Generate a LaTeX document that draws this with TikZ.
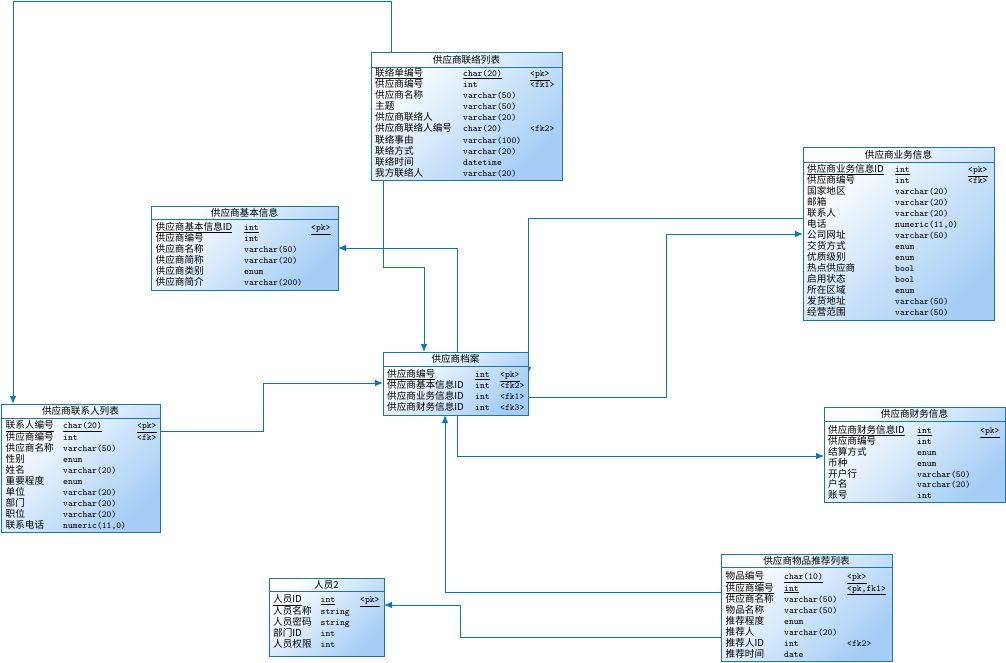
\documentclass[tikz,border=0pt]{standalone}
\usepackage{fontspec}
\newfontfamily\cjk{Noto Sans CJK SC}
\usetikzlibrary{fit,arrows.meta}
\definecolor{bordc}{RGB}{25,120,160}
\definecolor{linec}{RGB}{10,120,180}
\definecolor{tabblue}{RGB}{165,205,245}
\tikzset{
  tabframe/.style={draw=bordc, line width=0.8pt, inner sep=0pt, top color=white, bottom color=tabblue, shading angle=45},
  tabtitle/.style={inner sep=0pt, anchor=center, font=\cjk\fontsize{9.6}{11}\selectfont},
  nm/.style={inner sep=0pt, anchor=base west, font=\cjk\fontsize{9.6}{11}\selectfont},
  ty/.style={inner sep=0pt, anchor=base west, font=\ttfamily\fontsize{9.2}{10}\selectfont},
  conn/.style={draw=linec, line width=0.9pt, -{Latex[length=8pt,width=6.5pt]}},
}
% #1 name, #2 x1, #3 y1, #4 x2, #5 y2, #6 header line y, #7 title
\newcommand\ertab[7]{%
  \node[tabframe, fit={(#2,#3) (#4,#5)}] (#1) {};
  \draw[bordc, line width=0.6pt] (#1.west |- 0,#6) -- (#1.east |- 0,#6);
  \node[tabtitle] (#1-title) at ({(#2+#4)/2},{(#3+#6)/2}) {#7};
}
% #1 node prefix, #2 row centre y, #3 name, #4 type, #5 key
\newcommand\fld[5]{%
  \node[nm] (#1n) at (\nx,{#2+3.4}) {#3};
  \node[ty] (#1t) at (\tx,{#2+3.4}) {#4};
  \node[ty] (#1k) at (\kx,{#2+3.4}) {#5};
}
\begin{document}
\begin{tikzpicture}[x=1pt,y=-1pt]
\useasboundingbox (0,0) rectangle (1006,662);

% ---------- connectors ----------
\draw[conn] (391,0 |- 0,52) |- (13,1) -- (13,404);
\draw[conn] (383,180) -- (383,267) -| (424,352);
\draw[conn] (457,352) |- (338,248);
\draw[conn] (803,218) -| (528,375);
\draw[conn] (528,397) -| (666,234) -- (803,234);
\draw[conn] (457,415) |- (824,456);
\draw[conn] (160,431) -| (263,383) -- (383,383);
\draw[conn] (721,592) -| (445,415);
\draw[conn] (721,637) -| (460,605) -- (384,605);

% ---------- 供应商联络列表 ----------
\ertab{lianluo}{371}{52}{562}{180}{67}{供应商联络列表}
\def\nx{375}\def\tx{463}\def\kx{530}
\fld{ll1}{73}{\underline{联络单编号}}{\underline{char(20)}}{\underline{<pk>}}
\fld{ll2}{84.1}{供应商编号}{int}{<fk1>}
\fld{ll3}{95.2}{供应商名称}{varchar(50)}{}
\fld{ll4}{106.3}{主题}{varchar(50)}{}
\fld{ll5}{117.4}{供应商联络人}{varchar(20)}{}
\fld{ll6}{128.5}{供应商联络人编号}{char(20)}{<fk2>}
\fld{ll7}{139.6}{联络事由}{varchar(100)}{}
\fld{ll8}{150.7}{联络方式}{varchar(20)}{}
\fld{ll9}{161.8}{联络时间}{datetime}{}
\fld{ll10}{172.9}{我方联络人}{varchar(20)}{}

% ---------- 供应商基本信息 ----------
\ertab{jiben}{151}{206}{338}{290}{219.5}{供应商基本信息}
\def\nx{155.5}\def\tx{244}\def\kx{311}
\fld{jb1}{227}{\underline{供应商基本信息ID}}{\underline{int}}{\underline{<pk>}}
\fld{jb2}{238}{供应商编号}{int}{}
\fld{jb3}{249}{供应商名称}{varchar(50)}{}
\fld{jb4}{260}{供应商简称}{varchar(20)}{}
\fld{jb5}{271}{供应商类别}{enum}{}
\fld{jb6}{282}{供应商简介}{varchar(200)}{}

% ---------- 供应商业务信息 ----------
\ertab{yewu}{803}{147}{994}{320}{162}{供应商业务信息}
\def\nx{807}\def\tx{895}\def\kx{968}
\fld{yw1}{169}{\underline{供应商业务信息ID}}{\underline{int}}{\underline{<pk>}}
\fld{yw2}{180}{供应商编号}{int}{<fk>}
\fld{yw3}{191}{国家地区}{varchar(20)}{}
\fld{yw4}{202}{邮箱}{varchar(20)}{}
\fld{yw5}{213}{联系人}{varchar(20)}{}
\fld{yw6}{224}{电话}{numeric(11,0)}{}
\fld{yw7}{235}{公司网址}{varchar(50)}{}
\fld{yw8}{246}{交货方式}{enum}{}
\fld{yw9}{257}{优质级别}{enum}{}
\fld{yw10}{268}{热点供应商}{bool}{}
\fld{yw11}{279}{启用状态}{bool}{}
\fld{yw12}{290}{所在区域}{enum}{}
\fld{yw13}{301}{发货地址}{varchar(50)}{}
\fld{yw14}{312}{经营范围}{varchar(50)}{}

% ---------- 供应商档案 ----------
\ertab{dangan}{383}{352}{528}{415}{366}{供应商档案}
\def\nx{387}\def\tx{475}\def\kx{500}
\fld{da1}{374}{\underline{供应商编号}}{\underline{int}}{\underline{<pk>}}
\fld{da2}{385}{供应商基本信息ID}{int}{<fk2>}
\fld{da3}{396}{供应商业务信息ID}{int}{<fk1>}
\fld{da4}{407}{供应商财务信息ID}{int}{<fk3>}

% ---------- 供应商联系人列表 ----------
\ertab{lxr}{1}{404}{160}{532}{418}{供应商联系人列表}
\def\nx{5.5}\def\tx{63}\def\kx{137}
\fld{lx1}{425.5}{\underline{联系人编号}}{\underline{char(20)}}{\underline{<pk>}}
\fld{lx2}{436.6}{供应商编号}{int}{<fk>}
\fld{lx3}{447.7}{供应商名称}{varchar(50)}{}
\fld{lx4}{458.8}{性别}{enum}{}
\fld{lx5}{469.9}{姓名}{varchar(20)}{}
\fld{lx6}{481}{重要程度}{enum}{}
\fld{lx7}{492.1}{单位}{varchar(20)}{}
\fld{lx8}{503.2}{部门}{varchar(20)}{}
\fld{lx9}{514.3}{职位}{varchar(20)}{}
\fld{lx10}{525.4}{联系电话}{numeric(11,0)}{}

% ---------- 供应商财务信息 ----------
\ertab{caiwu}{824}{407}{1005}{502}{421}{供应商财务信息}
\def\nx{828}\def\tx{917}\def\kx{980}
\fld{cw1}{430}{\underline{供应商财务信息ID}}{\underline{int}}{\underline{<pk>}}
\fld{cw2}{440.9}{供应商编号}{int}{}
\fld{cw3}{451.8}{结算方式}{enum}{}
\fld{cw4}{462.7}{币种}{enum}{}
\fld{cw5}{473.6}{开户行}{varchar(50)}{}
\fld{cw6}{484.5}{户名}{varchar(20)}{}
\fld{cw7}{495.4}{账号}{int}{}

% ---------- 人员2 ----------
\ertab{renyuan}{269}{578}{384}{656}{591}{人员2}
\def\nx{273}\def\tx{320.5}\def\kx{360}
\fld{ry1}{599.5}{\underline{人员ID}}{\underline{int}}{\underline{<pk>}}
\fld{ry2}{610.7}{人员名称}{string}{}
\fld{ry3}{621.9}{人员密码}{string}{}
\fld{ry4}{633.1}{部门ID}{int}{}
\fld{ry5}{644.3}{人员权限}{int}{}

% ---------- 供应商物品推荐列表 ----------
\ertab{tuijian}{721}{554}{892}{661}{567.5}{供应商物品推荐列表}
\def\nx{725.5}\def\tx{784}\def\kx{847}
\fld{tj1}{576.5}{\underline{物品编号}}{\underline{char(10)}}{\underline{<pk>}}
\fld{tj2}{587.6}{\underline{供应商编号}}{\underline{int}}{\underline{<pk,fk1>}}
\fld{tj3}{598.7}{供应商名称}{varchar(50)}{}
\fld{tj4}{609.8}{物品名称}{varchar(50)}{}
\fld{tj5}{620.9}{推荐程度}{enum}{}
\fld{tj6}{632}{推荐人}{varchar(20)}{}
\fld{tj7}{643.1}{推荐人ID}{int}{<fk2>}
\fld{tj8}{654.2}{推荐时间}{date}{}
\end{tikzpicture}
\end{document}
